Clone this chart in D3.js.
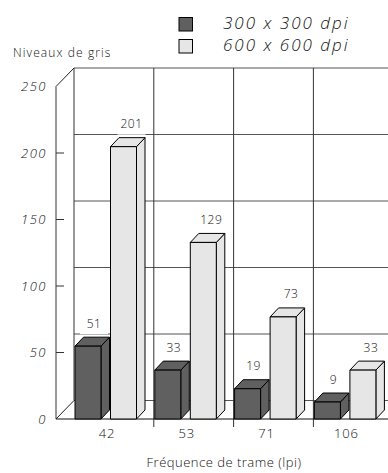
<!DOCTYPE html>
<html>
<head>
<meta charset="utf-8">
<script src="https://cdn.jsdelivr.net/npm/d3@7"></script>
<style>
  body { margin: 0; background: #fff; }
  svg { display: block; }
  text { font-family: "Open Sans", "DejaVu Sans", sans-serif; fill: #111; }
</style>
</head>
<body>
<div id="chart"></div>
<script>
//------------------------------DATA------------------------------//
const categories = ["42", "53", "71", "106"];
const seriesNames = ["300 x 300 dpi", "600 x 600 dpi"];
const dpi300 = [51, 33, 19, 9];
const dpi600 = [201, 129, 73, 33];
const yTicks = [0, 50, 100, 150, 200, 250];

//------------------------------SVG-------------------------------//
const width = 388;
const height = 473;
const svg = d3.select("#chart").append("svg")
    .attr("width", width)
    .attr("height", height);

// depth of the back wall and of the bars
const wall = { dx: 18, dy: -18.5 };
const bar = { dx: 8.5, dy: -9, lift: 5 };
const colors = ["#606060", "#e6e6e6"];

//-----------------------------SCALES-----------------------------//
const yScale = d3.scaleLinear().domain([0, 250]).range([419, 86.5]);
const xScale = d3.scaleBand().domain(categories).range([74, 74 + 4 * 79.8]);
const xSub = d3.scaleBand().domain(seriesNames).range([1, 62.5]).paddingInner(0.268);

const rows = categories.map(function (c, i) {
    return { cat: c, values: [dpi300[i], dpi600[i]] };
});

//------------------------------WALLS-----------------------------//
const frontLeft = 56;
const backLeft = frontLeft + wall.dx;
const right = width + 20;

// back wall horizontal gridlines
svg.append("g").selectAll("line")
    .data(yTicks)
    .enter().append("line")
    .attr("x1", backLeft)
    .attr("x2", right)
    .attr("y1", function (d) { return yScale(d) + wall.dy; })
    .attr("y2", function (d) { return yScale(d) + wall.dy; })
    .attr("stroke", "#555");

// category dividers
svg.append("g").selectAll("line")
    .data(categories)
    .enter().append("line")
    .attr("x1", function (d) { return xScale(d); })
    .attr("x2", function (d) { return xScale(d); })
    .attr("y1", yScale(250) + wall.dy)
    .attr("y2", function (d, i) { return i === 0 ? yScale(0) + wall.dy : yScale(0) + 8; })
    .attr("stroke", "#333");

// left side of the box
svg.append("path")
    .attr("d", "M" + frontLeft + "," + yScale(250) +
        "L" + backLeft + "," + (yScale(250) + wall.dy) +
        "M" + frontLeft + "," + yScale(0) +
        "L" + backLeft + "," + (yScale(0) + wall.dy))
    .attr("fill", "none")
    .attr("stroke", "#222");

// front floor line
svg.append("line")
    .attr("x1", frontLeft).attr("x2", right)
    .attr("y1", yScale(0)).attr("y2", yScale(0))
    .attr("stroke", "#111");

//-----------------------------Y AXIS-----------------------------//
svg.append("line")
    .attr("x1", frontLeft).attr("x2", frontLeft)
    .attr("y1", yScale(250)).attr("y2", yScale(0))
    .attr("stroke", "#333");

svg.append("g").selectAll("line")
    .data(yTicks.filter(function (d) { return d > 0 && d < 250; }))
    .enter().append("line")
    .attr("x1", frontLeft).attr("x2", frontLeft + 8)
    .attr("y1", function (d) { return yScale(d); })
    .attr("y2", function (d) { return yScale(d); })
    .attr("stroke", "#333");

svg.append("g").selectAll("text")
    .data(yTicks)
    .enter().append("text")
    .attr("x", 47)
    .attr("y", function (d) { return yScale(d) + 4.5; })
    .attr("text-anchor", "end")
    .style("font-size", "13px")
    .style("font-style", "italic")
    .style("font-weight", 300)
    .style("letter-spacing", "1.5px")
    .text(function (d) { return d; });

svg.append("text")
    .attr("x", 13)
    .attr("y", 57)
    .style("font-size", "12px")
    .style("font-weight", 300)
    .style("letter-spacing", "1.1px")
    .text("Niveaux de gris");

//------------------------------BARS------------------------------//
function barFaces(x, w, yTop, yBot) {
    return {
        front: "M" + x + "," + yTop + "h" + w + "V" + yBot + "h" + (-w) + "Z",
        top: "M" + x + "," + yTop + "l" + bar.dx + "," + bar.dy + "h" + w +
            "l" + (-bar.dx) + "," + (-bar.dy) + "Z",
        side: "M" + (x + w) + "," + yTop + "l" + bar.dx + "," + bar.dy +
            "V" + (yBot + bar.dy) + "l" + (-bar.dx) + "," + (-bar.dy) + "Z"
    };
}

const groups = svg.selectAll(".cat")
    .data(rows)
    .enter().append("g")
    .attr("class", "cat")
    .attr("transform", function (d) { return "translate(" + xScale(d.cat) + ",0)"; });

const bars = groups.selectAll(".bar")
    .data(function (d) {
        return d.values.map(function (v, i) { return { name: seriesNames[i], value: v, i: i }; });
    })
    .enter().append("g")
    .attr("class", "bar");

bars.each(function (d) {
    const g = d3.select(this);
    const x = xSub(d.name);
    const w = xSub.bandwidth();
    const yTop = yScale(d.value) - bar.lift;
    const f = barFaces(x, w, yTop, yScale(0));
    const fill = colors[d.i];
    g.append("path").attr("d", f.side).attr("fill", fill).attr("stroke", "#000");
    g.append("path").attr("d", f.top).attr("fill", fill).attr("stroke", "#000");
    g.append("path").attr("d", f.front).attr("fill", fill).attr("stroke", "#000");

    // value label with white box
    const cx = x + w / 2 + (d.i === 0 ? 6 : 8);
    const cy = yTop - 23;
    g.append("rect")
        .attr("x", cx - 14).attr("y", cy - 8)
        .attr("width", 28).attr("height", 19)
        .attr("fill", "#fff");
    g.append("text")
        .attr("x", cx)
        .attr("y", cy + 4.5)
        .attr("text-anchor", "middle")
        .style("font-size", "12px")
        .style("font-weight", 300)
        .style("letter-spacing", "0.5px")
        .text(d.value);
});

//-----------------------------X AXIS-----------------------------//
svg.append("g").selectAll("text")
    .data(categories)
    .enter().append("text")
    .attr("x", function (d) { return xScale(d) + 33; })
    .attr("y", 437.5)
    .attr("text-anchor", "middle")
    .style("font-size", "13px")
    .style("font-weight", 300)
    .style("letter-spacing", "0.8px")
    .text(function (d) { return d; });

svg.append("text")
    .attr("x", 224)
    .attr("y", 467)
    .attr("text-anchor", "middle")
    .style("font-size", "13px")
    .style("font-weight", 300)
    .style("letter-spacing", "0.5px")
    .text("Fréquence de trame (lpi)");

//-----------------------------LEGEND-----------------------------//
const legend = svg.selectAll(".legend")
    .data(seriesNames)
    .enter().append("g")
    .attr("class", "legend")
    .attr("transform", function (d, i) { return "translate(179," + (17.5 + i * 22) + ")"; });

legend.append("rect")
    .attr("width", 13.5)
    .attr("height", 13.5)
    .attr("fill", function (d, i) { return colors[i]; })
    .attr("stroke", "#000");

legend.append("text")
    .attr("x", 44)
    .attr("y", 11.5)
    .style("font-size", "17px")
    .style("font-style", "italic")
    .style("font-weight", 300)
    .style("letter-spacing", "2px")
    .text(function (d) { return d; });
</script>
</body>
</html>
